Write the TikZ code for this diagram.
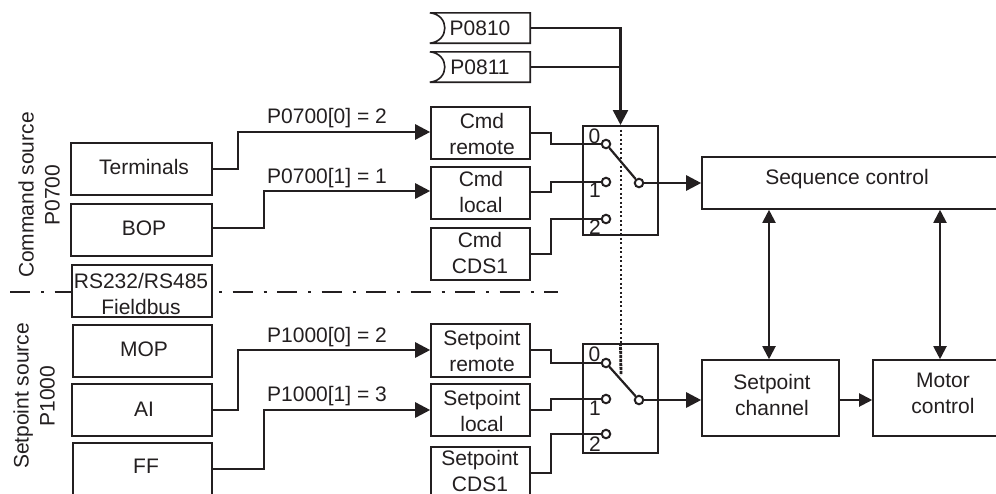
\documentclass[tikz,border=0pt]{standalone}
\usepackage{fontspec}
\setmainfont{Liberation Sans}
\usetikzlibrary{arrows.meta}
\definecolor{ink}{HTML}{231F20}
\newcommand{\bx}[5]{% name, x1,y1,x2,y2
  \pgfmathsetmacro{\bw}{#4-#2}\pgfmathsetmacro{\bh}{#5-#3}
  \node[boxn,minimum width=\bw pt,minimum height=\bh pt] (#1) at ({(#2+#4)/2},{(#3+#5)/2}) {};}
\tikzset{
  boxn/.style={draw=ink,line width=1.6pt,inner sep=0pt,fill=none},
  lbl/.style={text=ink,inner sep=0pt,align=center,font=\fontsize{21}{26}\selectfont},
  conn/.style={draw=ink,line width=2.6pt,line join=miter},
  thin conn/.style={draw=ink,line width=2pt,line join=miter},
  big tip/.style={-{Triangle[length=15pt,width=15pt]}},
  both tip/.style={{Triangle[length=13pt,width=13pt]}-{Triangle[length=13pt,width=13pt]}},
  contact/.style={circle,draw=ink,fill=white,line width=2pt,minimum size=8.5pt,inner sep=0pt},
  dashdotline/.style={draw=ink,line width=2.4pt,dash pattern=on 20pt off 11pt on 3pt off 10.5pt},
}
\begin{document}
\begin{tikzpicture}[x=1pt,y=-1pt]
\useasboundingbox (0,0) rectangle (996,493);
\clip (0,0) rectangle (996,493);
\fill[white] (0,0) rectangle (996,493);
% separator
\coordinate (sepL) at (10,292);
\coordinate (sepR) at (558,292);
\draw[dashdotline] (sepL) -- (sepR);
% left source boxes
\tikzset{boxn/.append style={fill=white}}
\bx{term}{71}{143}{212}{195}
\bx{bop}{71}{204}{212}{256}
\bx{rs}{72}{265}{212}{317}
\bx{mop}{73}{325}{212}{377}
\bx{ai}{72}{384}{212}{436}
\bx{ff}{73}{443}{212}{510}
\node[lbl] (termT) at (144,167) {Terminals};
\node[lbl] (bopT) at (144,228) {BOP};
\node[lbl] (rsT) at (141,294) {RS232/RS485\\Fieldbus};
\node[lbl] (mopT) at (144,349) {MOP};
\node[lbl] (aiT) at (144,409) {AI};
\node[lbl] (ffT) at (146,466) {FF};
% side captions
\node[lbl,rotate=90] (cmdSrc) at (39,195) {Command source\\P0700};
\node[lbl,rotate=90] (setSrc) at (34,396) {Setpoint source\\P1000};
% middle boxes
\bx{cr}{431}{107}{530}{159}
\bx{cl}{431}{167}{530}{219}
\bx{cc}{431}{228}{530}{280}
\bx{sr}{431}{324}{530}{377}
\bx{sl}{431}{384}{530}{436}
\bx{sc}{431}{447}{530}{510}
\node[lbl] (crT) at (482,134) {Cmd\\remote};
\node[lbl] (clT) at (481,192) {Cmd\\local};
\node[lbl] (ccT) at (480,253) {Cmd\\CDS1};
\node[lbl] (srT) at (482,351) {Setpoint\\remote};
\node[lbl] (slT) at (482,411) {Setpoint\\local};
\node[lbl] (scT) at (480,471) {Setpoint\\CDS1};
% parameter boxes
\node[inner sep=0pt,minimum width=100pt,minimum height=30pt] (p1) at (480,28) {};
\node[inner sep=0pt,minimum width=100pt,minimum height=30pt] (p2) at (480,67) {};
\node[lbl] (p1T) at (480,28) {P0810};
\node[lbl] (p2T) at (480,67) {P0811};
\foreach \p in {p1,p2}{
  \draw[draw=ink,line width=1.6pt] (\p.north west) -- (\p.north east) -- (\p.south east) -- (\p.south west)
    .. controls ([xshift=10pt,yshift=1pt]\p.south west) and ([xshift=15pt,yshift=8pt]\p.south west) .. ([xshift=15pt]\p.west)
    .. controls ([xshift=15pt,yshift=-8pt]\p.north west) and ([xshift=10pt,yshift=-1pt]\p.north west) .. (\p.north west);
}
% right boxes
\bx{seq}{702}{157}{1010}{209}
\bx{chan}{702}{360}{839}{436}
\bx{motor}{873}{360}{1010}{436}
\node[lbl] (seqT) at (847,179) {Sequence control};
\node[lbl] (chanT) at (772,395) {Setpoint\\channel};
\node[lbl] (motorT) at (943,393) {Motor\\control};
% switches
\tikzset{boxn/.append style={fill=none,line width=2pt}}
\bx{sw1}{583}{126}{658}{235}
\bx{sw2}{583}{344}{658}{453}
\node[contact] (a0) at (606,144) {};
\node[contact] (a1) at (606,182) {};
\node[contact] (a2) at (606,219) {};
\node[contact] (ap) at (639,183) {};
\node[contact] (b0) at (606,363) {};
\node[contact] (b1) at (606,399) {};
\node[contact] (b2) at (606,434) {};
\node[contact] (bp) at (639,400) {};
\node[lbl] (a0T) at (594.5,136) {0};
\node[lbl] (a1T) at (595,190) {1};
\node[lbl] (a2T) at (595,227) {2};
\node[lbl] (b0T) at (594.5,354) {0};
\node[lbl] (b1T) at (595,408) {1};
\node[lbl] (b2T) at (595,444) {2};
% dotted mechanical link
\coordinate (link) at (621,375);
\draw[draw=ink,line width=2pt,dash pattern=on 2.2pt off 2.3pt] (sw1.north) -- (sw2.north);
\draw[draw=ink,line width=2.8pt,dash pattern=on 3pt off 1pt] (sw2.north) -- (link);
% lever
\draw[thin conn,line width=2.2pt] (a0) -- (ap);
\draw[thin conn,line width=2.2pt] (b0) -- (bp);
% source connectors
\draw[conn,big tip] (term.east) -- ++(25,0) |- ([yshift=1pt]cr.west);
\draw[conn,big tip] ([yshift=2pt]bop.east) -- ++(51,0) |- ([yshift=2pt]cl.west);
\draw[conn,big tip] (ai.east) -- ++(25,0) |- ([yshift=0.5pt]sr.west);
\draw[conn,big tip] (ff.east |- 0,469) -- ++(51,0) |- (sl.west);
\node[lbl] (lab1) at (327,118) {P0700[0] = 2};
\node[lbl] (lab2) at (327,178) {P0700[1] = 1};
\node[lbl] (lab3) at (327,337) {P1000[0] = 2};
\node[lbl] (lab4) at (327,396) {P1000[1] = 3};
% switch inputs
\draw[conn] (cr.east) -- ++(20,0) |- (a0.west);
\draw[conn] ([yshift=1pt]cl.east) -- ++(20,0) |- (a1.west);
\draw[conn] (cc.east |- 0,254) -- ++(20,0) |- (a2.west);
\draw[conn] ([yshift=0.5pt]sr.east) -- ++(20,0) |- (b0.west);
\draw[conn] (sl.east) -- ++(20,0) |- (b1.west);
\draw[conn] (sc.east |- 0,473) -- ++(20,0) |- (b2.west);
% parameter connectors
\draw[conn] (p2.east) -- (p2.east -| sw1.north);
\draw[conn,big tip] (p1.east) -| (sw1.north);
% outputs
\draw[conn,big tip] (ap.east) -- (ap.east -| seq.west);
\draw[conn,big tip] (bp.east) -- (bp.east -| chan.west);
\draw[thin conn,both tip] (seq.south -| 769,0) -- (chan.north -| 769,0);
\draw[thin conn,both tip] (seq.south -| 940,0) -- (motor.north -| 940,0);
\draw[thin conn,-{Triangle[length=13pt,width=13pt]}] (chan.east |- 0,400) -- (motor.west |- 0,400);
\end{tikzpicture}
\end{document}
